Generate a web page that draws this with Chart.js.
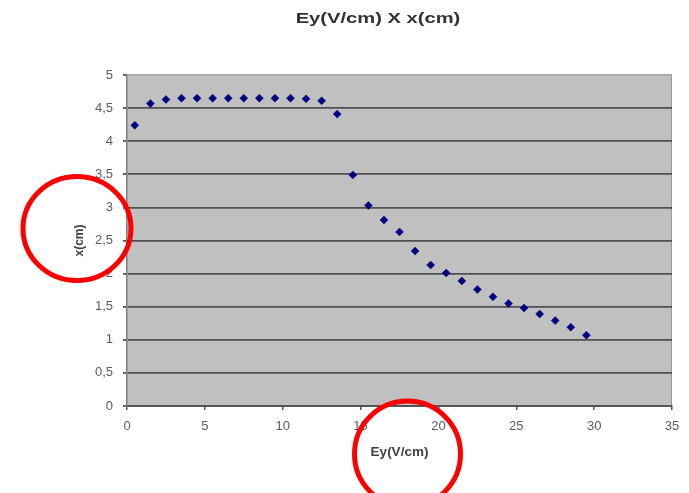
<!DOCTYPE html>
<html>
<head>
<meta charset="utf-8">
<script src="https://cdn.jsdelivr.net/npm/chart.js@4.4.1/dist/chart.umd.min.js"></script>
<style>
  html, body { margin: 0; padding: 0; background: #ffffff; }
  #wrap { position: relative; width: 689px; height: 493px; }
  #title {
    position: absolute; left: 0; top: 9px; width: 756px;
    text-align: center; font-family: "Liberation Sans", Arial, sans-serif;
    font-weight: bold; font-size: 15.5px; color: #333;
    transform-origin: 378px 0; transform: scaleX(1.3);
  }
  canvas { position: absolute; left: 0; top: 0; }
</style>
</head>
<body>
<div id="wrap">
  <canvas id="c" width="689" height="493"></canvas>
  <div id="title">Ey(V/cm) X x(cm)</div>
</div>
<script>
// ---- data ----
const chartTitle = "Ey(V/cm) X x(cm)";
const xAxisTitle = "Ey(V/cm)";
const yAxisTitle = "x(cm)";
const xValues = [0.5, 1.5, 2.5, 3.5, 4.5, 5.5, 6.5, 7.5, 8.5, 9.5,
                 10.5, 11.5, 12.5, 13.5, 14.5, 15.5, 16.5, 17.5, 18.5, 19.5,
                 20.5, 21.5, 22.5, 23.5, 24.5, 25.5, 26.5, 27.5, 28.5, 29.5];
const yValues = [4.24, 4.57, 4.63, 4.65, 4.65, 4.65, 4.65, 4.65, 4.65, 4.65,
                 4.65, 4.64, 4.61, 4.41, 3.49, 3.03, 2.81, 2.63, 2.34, 2.13,
                 2.01, 1.89, 1.76, 1.65, 1.55, 1.48, 1.39, 1.29, 1.19, 1.07];
const xTicks = [0, 5, 10, 15, 20, 25, 30, 35];
const yTicks = [0, 0.5, 1, 1.5, 2, 2.5, 3, 3.5, 4, 4.5, 5];

const points = xValues.map((x, i) => ({ x: x, y: yValues[i] }));

const plotBg = {
  id: 'plotBg',
  beforeDraw(chart) {
    const { ctx, chartArea: a } = chart;
    ctx.save();
    ctx.fillStyle = '#c0c0c0';
    ctx.fillRect(a.left, a.top, a.right - a.left, a.bottom - a.top);
    ctx.strokeStyle = '#9a9a9a';
    ctx.lineWidth = 1;
    ctx.beginPath();
    ctx.moveTo(a.right - 0.5, a.top);
    ctx.lineTo(a.right - 0.5, a.bottom);
    ctx.stroke();
    ctx.restore();
  }
};

const redCircles = {
  id: 'redCircles',
  afterDraw(chart) {
    const { ctx, chartArea: a } = chart;
    ctx.save();
    ctx.strokeStyle = '#ff0000';
    ctx.lineWidth = 5;
    // around the y axis title
    ctx.beginPath();
    ctx.ellipse(77, (a.top + a.bottom) / 2 - 12, 54, 52, 0, 0, Math.PI * 2);
    ctx.stroke();
    // around the x axis title
    ctx.beginPath();
    ctx.ellipse((a.left + a.right) / 2 + 8, 454, 53, 53, 0, 0, Math.PI * 2);
    ctx.stroke();
    ctx.restore();
  }
};

document.getElementById('title').textContent = chartTitle;

new Chart(document.getElementById('c'), {
  type: 'scatter',
  data: {
    datasets: [{
      data: points,
      pointStyle: 'rectRot',
      pointRadius: 4,
      pointBackgroundColor: '#000080',
      pointBorderColor: '#000080',
      pointBorderWidth: 0.5,
      showLine: false
    }]
  },
  options: {
    responsive: false,
    animation: false,
    events: [],
    layout: { padding: { top: 75, right: 17, left: 0, bottom: 0 } },
    plugins: { legend: { display: false }, tooltip: { enabled: false }, title: { display: false } },
    scales: {
      x: {
        type: 'linear', min: xTicks[0], max: xTicks[xTicks.length - 1],
        afterBuildTicks(s) { s.ticks = xTicks.map(v => ({ value: v })); },
        afterFit(s) { s.height = 87; },
        ticks: { color: '#5a5a64', font: { family: 'Liberation Sans', size: 13 }, padding: 9, maxRotation: 0 },
        grid: { drawOnChartArea: false, drawTicks: true, tickLength: 4, tickColor: '#555', lineWidth: 1.5 },
        border: { color: '#555', width: 2 },
        title: { display: true, text: xAxisTitle, color: '#404048',
                 font: { family: 'Liberation Sans', size: 13.5, weight: 'bold' },
                 padding: { top: 0, bottom: 33 } }
      },
      y: {
        type: 'linear', min: yTicks[0], max: yTicks[yTicks.length - 1],
        afterBuildTicks(s) { s.ticks = yTicks.map(v => ({ value: v })); },
        afterFit(s) { s.width = 127; },
        ticks: { color: '#5a5a64', font: { family: 'Liberation Sans', size: 13 }, padding: 10,
                 callback: v => String(v).replace('.', ',') },
        grid: {
          drawTicks: true, tickLength: 4, tickColor: '#555', lineWidth: 1.8,
          color: ctx => (ctx.tick && ctx.tick.value === 5) ? '#a8a8a8' : '#505050'
        },
        border: { color: '#808080', width: 1.5 },
        title: { display: true, text: yAxisTitle, color: '#404048',
                 font: { family: 'Liberation Sans', size: 12, weight: 'bold' },
                 padding: { top: 72, bottom: 0 } }
      }
    }
  },
  plugins: [plotBg, redCircles]
});
</script>
</body>
</html>
